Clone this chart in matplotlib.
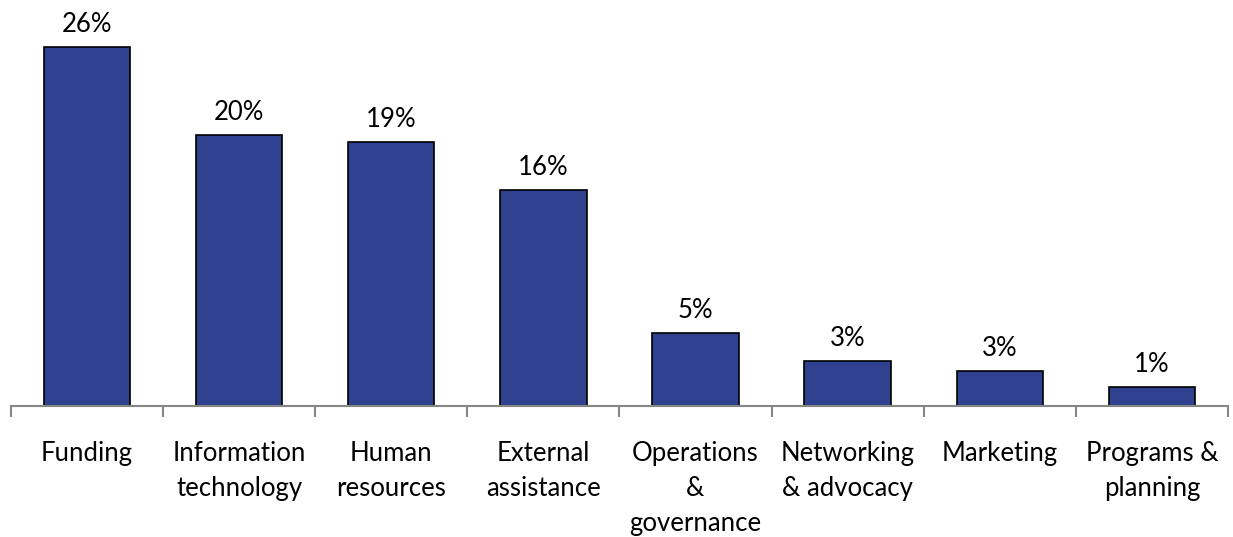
import matplotlib
matplotlib.use("Agg")
import matplotlib.pyplot as plt

categories = [
    "Funding",
    "Information\ntechnology",
    "Human\nresources",
    "External\nassistance",
    "Operations\n&\ngovernance",
    "Networking\n& advocacy",
    "Marketing",
    "Programs &\nplanning",
]
shares = [26.4, 19.9, 19.4, 15.9, 5.4, 3.3, 2.6, 1.4]

plt.rcParams["font.family"] = ["Lato", "DejaVu Sans"]

fig = plt.figure(figsize=(12.33, 5.37), dpi=100)
ax = fig.add_axes([0.0089, 0.2439, 0.987, 0.7561])

x = range(len(categories))
bars = ax.bar(x, shares, width=0.568, color="#2f418f",
              edgecolor="black", linewidth=1.2)
ax.bar_label(bars, labels=[f"{v:.0f}%" for v in shares],
             padding=7, fontsize=18.5, color="black")

ax.set_xlim(-0.5, len(categories) - 0.5)
ax.set_ylim(0, 29.83)

# category names centred under bars, tick marks between categories
ax.set_xticks(list(x))
ax.set_xticklabels(categories, fontsize=18.5, linespacing=1.5,
                   multialignment="center")
ax.set_xticks([i - 0.5 for i in range(len(categories) + 1)], minor=True)
ax.tick_params(axis="x", which="major", length=0, pad=25)
ax.tick_params(axis="x", which="minor", length=8, width=1.5,
               color="#868686", direction="out")

ax.set_yticks([])
for side in ("top", "right", "left"):
    ax.spines[side].set_visible(False)
ax.spines["bottom"].set_color("#868686")
ax.spines["bottom"].set_linewidth(1.5)

fig.savefig("out.png", dpi=100)
